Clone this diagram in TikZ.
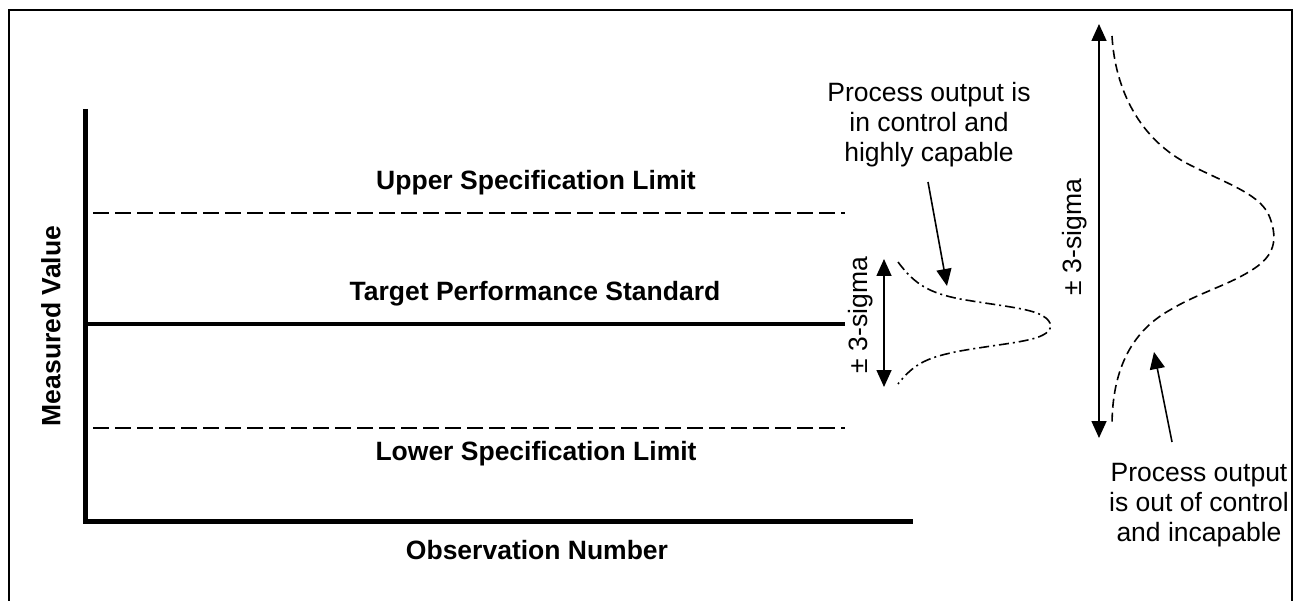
\documentclass[tikz,border=0pt]{standalone}
\usepackage{fontspec}
\setmainfont{Liberation Sans}
\usetikzlibrary{arrows.meta}
\tikzset{
  lbl/.style={font=\fontsize{26.5}{30}\selectfont, inner sep=0pt, align=center},
  blbl/.style={lbl, font=\fontsize{26.5}{30}\selectfont\bfseries},
  axis/.style={line width=5pt},
  speclim/.style={line width=1.6pt, dash pattern=on 16pt off 6pt},
  bigcurve/.style={line width=1.6pt, dash pattern=on 9pt off 5pt},
  smallcurve/.style={line width=1.6pt, dash pattern=on 10pt off 4pt on 2pt off 4pt},
  dim/.style={line width=1.6pt, {Triangle[length=17pt,width=15pt]}-{Triangle[length=17pt,width=15pt]}},
  pointer/.style={line width=1.6pt, -{Triangle[length=17pt,width=15pt]}}
}
\begin{document}
\begin{tikzpicture}[x=1pt,y=-1pt]
\useasboundingbox (0,0) rectangle (1300,601);
% frame
\draw[line width=2pt] (9,601) -- (9,10) -- (1292,10) -- (1292,601);
% axes
\coordinate (ytop) at (85,109);
\coordinate (orig) at (85,521);
\coordinate (xend) at (913,521);
\draw[axis] (ytop) -- (orig) -- (xend);
% spec lines
\coordinate (usl0) at (93,213); \coordinate (usl1) at (845,213);
\coordinate (lsl0) at (93,428); \coordinate (lsl1) at (845,428);
\coordinate (tg0) at (85,324); \coordinate (tg1) at (845,324);
\draw[speclim] (usl0) -- (usl1);
\draw[speclim] (lsl0) -- (lsl1);
\draw[line width=4pt] (tg0) -- (tg1);
% labels
\node[blbl] (usl) at (536,183) {Upper Specification Limit};
\node[blbl] (tps) at (535,294) {Target Performance Standard};
\node[blbl] (lsl) at (536,454) {Lower Specification Limit};
\node[blbl] (obs) at (537,550) {Observation Number};
\node[blbl, rotate=90] (mv) at (51,326) {Measured Value};
% small distribution
\coordinate (s0) at (898,262);
\coordinate (s1) at (898,384);
\draw[smallcurve] (s0) .. controls (915,285) and (930,293) .. (960,299)
  .. controls (1000,306) and (1030,308) .. (1043,316)
  .. controls (1053,322) and (1053,330) .. (1043,335)
  .. controls (1030,342) and (1000,344) .. (960,351)
  .. controls (930,357) and (915,362) .. (s1);
\coordinate (sa0) at (884,259);
\coordinate (sa1) at (884,387);
\draw[dim] (sa0) -- (sa1);
\node[lbl, rotate=90] (ssig) at (861,315) {± 3-sigma};
% big distribution
\coordinate (b0) at (1112,36);
\coordinate (b1) at (1112,426);
\draw[bigcurve] (b0) .. controls (1115,90) and (1140,140) .. (1190,165)
  .. controls (1230,185) and (1262,195) .. (1270,218)
  .. controls (1278,240) and (1274,255) .. (1255,268)
  .. controls (1230,285) and (1200,292) .. (1170,310)
  .. controls (1125,335) and (1112,380) .. (b1);
\coordinate (ba0) at (1099,24);
\coordinate (ba1) at (1099,438);
\draw[dim] (ba0) -- (ba1);
\node[lbl, rotate=90] (bsig) at (1075,237) {± 3-sigma};
% annotations
\node[lbl] (incap) at (929,125) {Process output is\\in control and\\highly capable};
\node[lbl] (outcap) at (1199,505) {Process output\\is out of control\\and incapable};
\coordinate (p1) at (947,286);
\coordinate (p2) at (1154,352);
\draw[pointer] (928,182) -- (p1);
\draw[pointer] (1172,442) -- (p2);
\end{tikzpicture}
\end{document}
